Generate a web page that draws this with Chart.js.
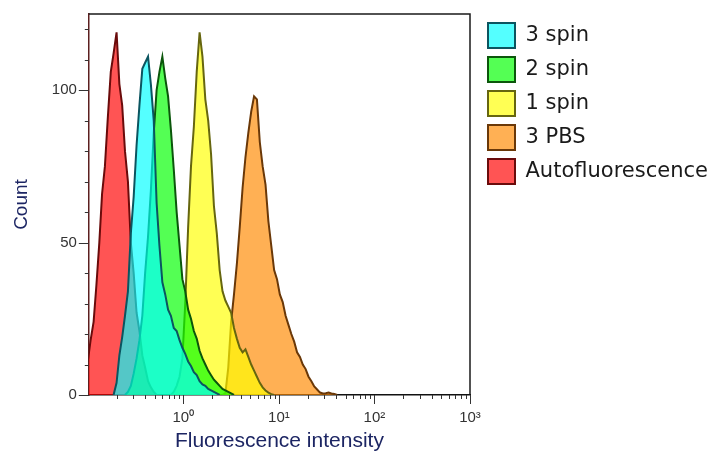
<!DOCTYPE html>
<html>
<head>
<meta charset="utf-8">
<script src="https://cdn.jsdelivr.net/npm/chart.js@4.4.1/dist/chart.umd.min.js"></script>
<style>
  html, body { margin: 0; padding: 0; background: #fff; }
</style>
</head>
<body>
<canvas id="histChart" width="711" height="455"></canvas>
<script>
// bin centres (fluorescence intensity, log spaced)
const binCenters = [
  0.100, 0.107, 0.115, 0.123, 0.132, 0.141, 0.151, 0.162, 0.174, 0.186,
  0.200, 0.214, 0.229, 0.245, 0.263, 0.282, 0.302, 0.324, 0.347, 0.372,
  0.398, 0.427, 0.457, 0.490, 0.525, 0.562, 0.603, 0.646, 0.692, 0.741,
  0.794, 0.851, 0.912, 0.977, 1.047, 1.122, 1.202, 1.288, 1.380, 1.479,
  1.585, 1.698, 1.820, 1.950, 2.089, 2.239, 2.399, 2.570, 2.754, 2.951,
  3.162, 3.388, 3.631, 3.890, 4.169, 4.467, 4.786, 5.129, 5.495, 5.888,
  6.310, 6.761, 7.244, 7.762, 8.318, 8.913, 9.550, 10.23, 10.96, 11.75,
  12.59, 13.49, 14.45, 15.49, 16.60, 17.78, 19.05, 20.42, 21.88, 23.44,
  25.12, 26.92, 28.84, 30.90, 33.11, 35.48, 38.02, 40.74
];

const spin3 = [
  null, null, null, null, null, null, null, null, null, 0,
  4, 13, 19, 26, 34, 53, 65, 82, 95, 107,
  109, 111, 102, 90, 63, 49, 37, 33, 28, 26,
  22, 21, 18, 15.5, 13.5, 11, 9.5, 7.5, 6.5, 4.5,
  3.5, 3, 2, 1.5, 1, 0.5, 0, null, null, null,
  null, null, null, null, null, null, null, null, null, null,
  null, null, null, null, null, null, null, null, null, null,
  null, null, null, null, null, null, null, null, null, null,
  null, null, null, null, null, null, null, null
];

const spin2 = [
  null, null, null, null, null, null, null, null, null, null,
  null, null, null, 0, 1, 3, 7, 12, 18, 26,
  40, 52, 67, 86, 100, 106, 111, 104, 98, 87,
  74, 60, 49, 38, 34, 28, 25, 21, 18.5, 14.5,
  12, 10, 8, 6.5, 5, 4, 3, 2, 1.5, 1,
  0.5, 0, null, null, null, null, null, null, null, null,
  null, null, null, null, null, null, null, null, null, null,
  null, null, null, null, null, null, null, null, null, null,
  null, null, null, null, null, null, null, null
];

const spin1 = [
  null, null, null, null, null, null, null, null, null, null,
  null, null, null, null, null, null, null, null, null, null,
  null, null, null, null, null, null, null, null, null, 0,
  1, 3, 6, 12, 30, 55, 75, 88, 106, 119,
  111, 97, 90, 79, 62, 53, 41, 34, 31, 29,
  27, 22, 18.5, 15.5, 14, 15, 12.5, 10, 8, 6,
  4, 2.5, 1.5, 0.8, 0.3, 0, null, null, null, null,
  null, null, null, null, null, null, null, null, null, null,
  null, null, null, null, null, null, null, null
];

const pbs3 = [
  null, null, null, null, null, null, null, null, null, null,
  null, null, null, null, null, null, null, null, null, null,
  null, null, null, null, null, null, null, null, null, null,
  null, null, null, null, null, null, null, null, null, null,
  null, null, null, null, null, null, null, 0, 0.5, 9,
  24, 33, 43, 55, 68, 78, 86, 93, 98, 97,
  83, 75, 69, 57, 49, 41, 38, 33, 30.5, 26,
  23, 20, 17.5, 14, 12.5, 10, 8.5, 6, 4.5, 2.8,
  1.8, 0.8, 0.5, 0.6, 0.8, 0.5, 0.3, 0
];

const autoFluor = [
  11, 18, 24, 36, 50, 66, 75, 91, 106, 112,
  119, 102, 95, 80, 70, 50, 40, 27, 21, 13,
  9, 4.5, 2.5, 1, 0, null, null, null, null, null,
  null, null, null, null, null, null, null, null, null, null,
  null, null, null, null, null, null, null, null, null, null,
  null, null, null, null, null, null, null, null, null, null,
  null, null, null, null, null, null, null, null, null, null,
  null, null, null, null, null, null, null, null, null, null,
  null, null, null, null, null, null, null, null
];

const seriesNames = ['3 spin', '2 spin', '1 spin', '3 PBS', 'Autofluorescence'];
const seriesValues = [spin3, spin2, spin1, pbs3, autoFluor];
const fillColors = ['rgba(0,255,255,0.67)', 'rgba(0,255,0,0.67)', 'rgba(255,255,0,0.67)', 'rgba(255,137,0,0.67)', 'rgba(255,0,0,0.67)'];
const lineColors = ['#0b5560', '#0b560b', '#66660f', '#6a3808', '#6a0b0b'];

const yTickValues = [0, 10, 20, 30, 40, 50, 60, 70, 80, 90, 100, 110, 120];
const yLabelValues = [0, 50, 100];
const xTickValues = [0.2, 0.3, 0.4, 0.5, 0.6, 0.7, 0.8, 0.9, 1, 2, 3, 4, 5, 6, 7, 8, 9, 10,
  20, 30, 40, 50, 60, 70, 80, 90, 100, 200, 300, 400, 500, 600, 700, 800, 900, 1000];
const xDecadeLabels = { 1: '10⁰', 10: '10¹', 100: '10²', 1000: '10³' };

// tick marks (long majors, short minors) and the top/right frame
const tickMarks = {
  id: 'tickMarks',
  afterDraw(chart) {
    const { ctx, chartArea, scales: { x, y } } = chart;
    ctx.save();
    ctx.strokeStyle = '#333';
    ctx.lineWidth = 1;
    ctx.beginPath();
    xTickValues.forEach(v => {
      const px = Math.round(x.getPixelForValue(v)) + 0.5;
      const len = xDecadeLabels[v] ? 9 : 4;
      ctx.moveTo(px, chartArea.bottom);
      ctx.lineTo(px, chartArea.bottom + len);
    });
    yTickValues.forEach(v => {
      const py = Math.round(y.getPixelForValue(v)) + 0.5;
      const len = yLabelValues.includes(v) ? 10 : 4;
      ctx.moveTo(chartArea.left, py);
      ctx.lineTo(chartArea.left - len, py);
    });
    ctx.stroke();

    ctx.strokeStyle = '#1a1a1a';
    ctx.lineWidth = 1.5;
    ctx.beginPath();
    ctx.moveTo(chartArea.left, chartArea.top);
    ctx.lineTo(chartArea.right, chartArea.top);
    ctx.lineTo(chartArea.right, chartArea.bottom);
    ctx.stroke();
    ctx.restore();
  }
};

const datasets = seriesNames.map((name, k) => ({
  label: name,
  data: binCenters.map((x, i) => ({ x: x, y: seriesValues[k][i] })),
  backgroundColor: fillColors[k],
  borderColor: lineColors[k],
  borderWidth: 2,
  pointRadius: 0,
  tension: 0,
  fill: 'origin',
  clip: 0
}));

new Chart(document.getElementById('histChart'), {
  type: 'line',
  data: { datasets: datasets },
  plugins: [tickMarks],
  options: {
    responsive: false,
    animation: false,
    layout: { padding: { left: 4, top: 14, right: 0, bottom: 0 } },
    plugins: {
      tooltip: { enabled: false },
      legend: {
        position: 'right',
        align: 'start',
        maxWidth: 232,
        labels: {
          boxWidth: 27,
          boxHeight: 25,
          padding: 9,
          color: '#1a1a1a',
          font: { family: 'DejaVu Sans', size: 21 }
        }
      }
    },
    scales: {
      x: {
        type: 'logarithmic',
        min: 0.1025,
        max: 1000,
        afterBuildTicks: axis => { axis.ticks = xTickValues.map(v => ({ value: v })); },
        ticks: {
          autoSkip: false,
          maxRotation: 0,
          padding: 0,
          color: '#333',
          font: { family: 'Liberation Sans', size: 15 },
          callback: value => xDecadeLabels[value] || ''
        },
        grid: { display: true, drawOnChartArea: false, tickLength: 14, tickColor: 'transparent' },
        border: { color: '#111', width: 1.5 },
        title: {
          display: true,
          text: 'Fluorescence intensity',
          color: '#1c2563',
          font: { family: 'Liberation Sans', size: 21, lineHeight: 1.1 },
          padding: { top: 2.5, bottom: 2.4 }
        }
      },
      y: {
        type: 'linear',
        min: 0,
        max: 125,
        afterBuildTicks: axis => { axis.ticks = yTickValues.map(v => ({ value: v })); },
        ticks: {
          padding: 0,
          color: '#333',
          font: { family: 'Liberation Sans', size: 15 },
          callback: value => yLabelValues.includes(value) ? String(value) : ''
        },
        grid: { display: true, drawOnChartArea: false, tickLength: 12, tickColor: 'transparent' },
        border: { color: '#5c1f1f', width: 1.5 },
        title: {
          display: true,
          text: 'Count',
          color: '#1c2563',
          font: { family: 'Liberation Sans', size: 19 },
          padding: { top: 6, bottom: 19 }
        }
      },
      gap: {
        type: 'linear',
        position: 'right',
        display: true,
        ticks: { display: false },
        grid: { display: false },
        border: { display: false },
        afterFit: scale => { scale.width = 9; }
      }
    }
  }
});
</script>
</body>
</html>
